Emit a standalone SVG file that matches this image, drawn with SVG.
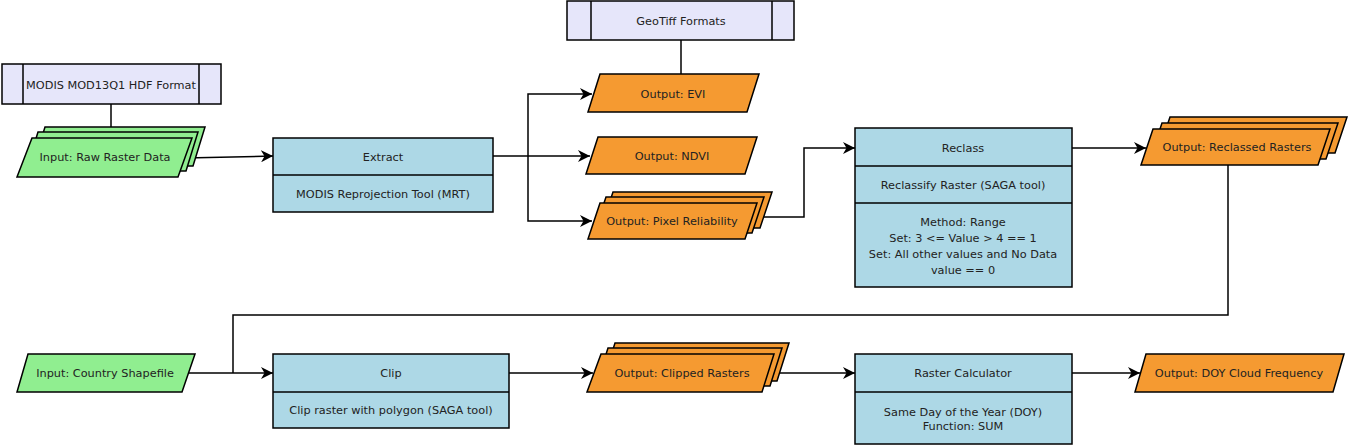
<svg xmlns="http://www.w3.org/2000/svg" width="1350" height="446" viewBox="0 0 1350 446">
<defs>
<marker id="arr" markerUnits="userSpaceOnUse" markerWidth="13" markerHeight="12" refX="12" refY="6" orient="auto">
<path d="M0,0 L12,6 L0,12 L3.5,6 Z" fill="#000"/>
</marker>
</defs>
<style>
text{font-family:"DejaVu Sans",Verdana,sans-serif;font-size:11.3px;fill:#222;text-anchor:middle;dominant-baseline:central}
.hdr{fill:#E6E6FA;stroke:#000;stroke-width:1.5}
.in{fill:#90EE90;stroke:#000;stroke-width:1.5}
.out{fill:#F59A31;stroke:#000;stroke-width:1.5}
.proc{fill:#ADD8E6;stroke:#000;stroke-width:1.5}
.ln{fill:none;stroke:#000;stroke-width:1.5}
.edge{fill:none;stroke:#000;stroke-width:1.5}
</style>
<rect width="1350" height="446" fill="#fff"/>

<g id="connectors">
<path class="edge" d="M111,104 V137"/>
<path class="edge" d="M681,40 V74"/>
<path class="edge" d="M185,158 L273,156" marker-end="url(#arr)"/>
<path class="edge" d="M493,156 H590" marker-end="url(#arr)"/>
<path class="edge" d="M528,156 V94 H592" marker-end="url(#arr)"/>
<path class="edge" d="M528,156 V221 H592" marker-end="url(#arr)"/>
<path class="edge" d="M751,217 H804 V148 H855" marker-end="url(#arr)"/>
<path class="edge" d="M1072,148 H1146" marker-end="url(#arr)"/>
<path class="edge" d="M1228,165 V315 H233 V373"/>
<path class="edge" d="M188,373 H273" marker-end="url(#arr)"/>
<path class="edge" d="M509,373 H593" marker-end="url(#arr)"/>
<path class="edge" d="M768,373 H855" marker-end="url(#arr)"/>
<path class="edge" d="M1072,373 H1140" marker-end="url(#arr)"/>
</g>

<g id="modis-format">
<rect class="hdr" x="2" y="64" width="219" height="40"/>
<path class="ln" d="M23,64 V104 M199,64 V104"/>
<text x="111" y="85">MODIS MOD13Q1 HDF Format</text>
</g>

<g id="raw-raster">
<polygon class="in" points="45,127 205,127 193,166 33,166"/>
<polygon class="in" points="38,132 198,132 186,171 26,171"/>
<polygon class="in" points="32,138 192,138 178,177 17,177"/>
<text x="105" y="157">Input: Raw Raster Data</text>
</g>

<g id="extract">
<rect class="proc" x="273" y="138" width="220" height="74"/>
<path class="ln" d="M273,175 H493"/>
<text x="383" y="157">Extract</text>
<text x="383" y="194">MODIS Reprojection Tool (MRT)</text>
</g>

<g id="geotiff-format">
<rect class="hdr" x="567" y="1" width="227" height="39"/>
<path class="ln" d="M591,1 V40 M772,1 V40"/>
<text x="681" y="21">GeoTiff Formats</text>
</g>

<g id="out-evi">
<polygon class="out" points="600,74 759,74 747,112 588,112"/>
<text x="673" y="94">Output: EVI</text>
</g>

<g id="out-ndvi">
<polygon class="out" points="598,137 757,137 745,174 586,174"/>
<text x="672" y="156">Output: NDVI</text>
</g>

<g id="out-pixel-reliability">
<polygon class="out" points="613,192 772,192 760,228 601,228"/>
<polygon class="out" points="606,197 764,197 752,233 594,233"/>
<polygon class="out" points="600,203 757,203 745,239 588,239"/>
<text x="672" y="221">Output: Pixel Reliability</text>
</g>

<g id="reclass">
<rect class="proc" x="855" y="128" width="217" height="159"/>
<path class="ln" d="M855,166 H1072 M855,203 H1072"/>
<text x="963" y="148">Reclass</text>
<text x="963" y="185">Reclassify Raster (SAGA tool)</text>
<text x="963" y="222">Method: Range</text>
<text x="963" y="238">Set: 3 &lt;= Value &gt; 4 == 1</text>
<text x="963" y="254">Set: All other values and No Data</text>
<text x="963" y="270">value == 0</text>
</g>

<g id="out-reclassed">
<polygon class="out" points="1170,117 1347,117 1335,153 1158,153"/>
<polygon class="out" points="1162,123 1338,123 1326,159 1150,159"/>
<polygon class="out" points="1153,129 1330,129 1318,165 1141,165"/>
<text x="1237" y="147">Output: Reclassed Rasters</text>
</g>

<g id="country-shapefile">
<polygon class="in" points="28,354 195,354 182,392 17,392"/>
<text x="105" y="373">Input: Country Shapefile</text>
</g>

<g id="clip">
<rect class="proc" x="273" y="354" width="236" height="74"/>
<path class="ln" d="M273,392 H509"/>
<text x="391" y="373">Clip</text>
<text x="391" y="410">Clip raster with polygon (SAGA tool)</text>
</g>

<g id="out-clipped">
<polygon class="out" points="615,343 789,343 777,381 603,381"/>
<polygon class="out" points="608,348 782,348 770,386 596,386"/>
<polygon class="out" points="601,354 774,354 762,392 587,392"/>
<text x="682" y="373">Output: Clipped Rasters</text>
</g>

<g id="raster-calculator">
<rect class="proc" x="855" y="354" width="217" height="90"/>
<path class="ln" d="M855,392 H1072"/>
<text x="963" y="373">Raster Calculator</text>
<text x="963" y="412">Same Day of the Year (DOY)</text>
<text x="963" y="426">Function: SUM</text>
</g>

<g id="out-doy">
<polygon class="out" points="1146,354 1344,354 1333,392 1135,392"/>
<text x="1239" y="373">Output: DOY Cloud Frequency</text>
</g>
</svg>
